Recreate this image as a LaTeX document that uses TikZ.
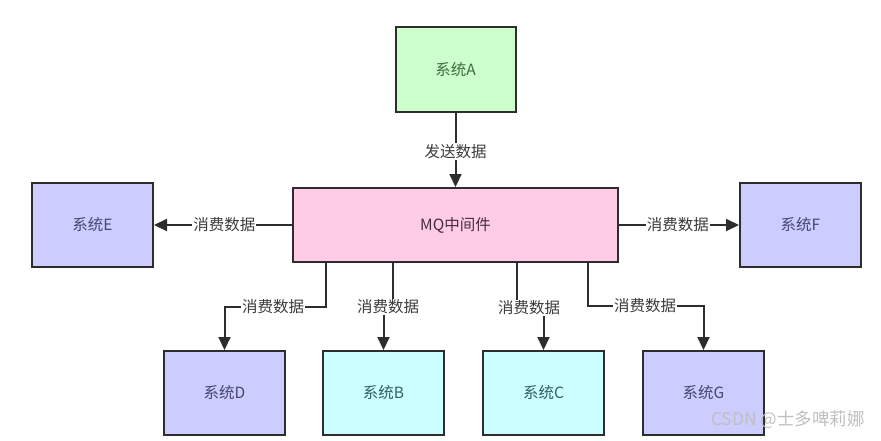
\documentclass[tikz,border=0pt]{standalone}
\usepackage{fontspec}
\setmainfont{Noto Sans CJK SC}
\usetikzlibrary{arrows.meta}
\definecolor{fillA}{RGB}{204,255,204}
\definecolor{fillMQ}{RGB}{255,204,230}
\definecolor{fillP}{RGB}{204,204,255}
\definecolor{fillC}{RGB}{204,255,255}
\definecolor{txtA}{RGB}{60,110,60}
\definecolor{txtP}{RGB}{70,70,110}
\definecolor{txtC}{RGB}{50,95,95}
\definecolor{txtMQ}{RGB}{70,45,60}
\definecolor{linec}{RGB}{45,45,45}
\definecolor{lblc}{RGB}{60,60,60}
\begin{document}
\begin{tikzpicture}[x=1pt,y=-1pt,
  sysbox/.style={draw=linec,line width=2pt,minimum width=121pt,minimum height=84pt,inner sep=0pt,font=\fontsize{15.5}{16}\selectfont},
  conn/.style={draw=linec,line width=2pt,-{Triangle[length=13pt,width=12pt]}},
  lbl/.style={fill=white,inner sep=1pt,text=lblc,font=\fontsize{15.5}{16}\selectfont}]
\useasboundingbox (0,0) rectangle (881,440);
\node[sysbox,fill=fillA,text=txtA,minimum width=120pt,minimum height=85pt] (A) at (455.5,69.5) {系统A};
\node[sysbox,fill=fillMQ,text=txtMQ,minimum width=325pt,minimum height=74pt] (MQ) at (455.5,225) {MQ中间件};
\node[sysbox,fill=fillP,text=txtP] (E) at (92.5,225) {系统E};
\node[sysbox,fill=fillP,text=txtP] (F) at (800.5,225) {系统F};
\node[sysbox,fill=fillP,text=txtP] (D) at (224.5,393) {系统D};
\node[sysbox,fill=fillC,text=txtC] (B) at (383.5,393) {系统B};
\node[sysbox,fill=fillC,text=txtC] (C) at (543.5,393) {系统C};
\node[sysbox,fill=fillP,text=txtP] (G) at (703.5,393) {系统G};
% connectors
\draw[conn] (A.south) -- (MQ.north) node[lbl,pos=0.52] {发送数据};
\draw[conn] (MQ.west) -- (E.east) node[lbl,pos=0.49] {消费数据};
\draw[conn] (MQ.east) -- (F.west) node[lbl,pos=0.49] {消费数据};
\coordinate (d1) at (326,307);
\coordinate (b1) at (393,307);
\coordinate (c1) at (517,308);
\coordinate (g1) at (588,306);
\draw[conn] (MQ.south -| d1) -- (d1) -- (d1 -| D.north) -- (D.north);
\node[lbl] (ld) at (273,307) {消费数据};
\draw[conn] (MQ.south -| b1) -- (b1) -- (b1 -| B.north) -- (B.north);
\node[lbl] (lb) at (388,307) {消费数据};
\draw[conn] (MQ.south -| c1) -- (c1) -- (c1 -| C.north) -- (C.north);
\node[lbl] (lc) at (529,308) {消费数据};
\draw[conn] (MQ.south -| g1) -- (g1) -- (g1 -| G.north) -- (G.north);
\node[lbl] (lg) at (645,306) {消费数据};
% watermark
\node[text=gray!50,font=\fontsize{17.5}{18}\selectfont,anchor=east,inner sep=0pt] (wm) at (865,420) {CSDN @士多啤莉娜};
\end{tikzpicture}
\end{document}
